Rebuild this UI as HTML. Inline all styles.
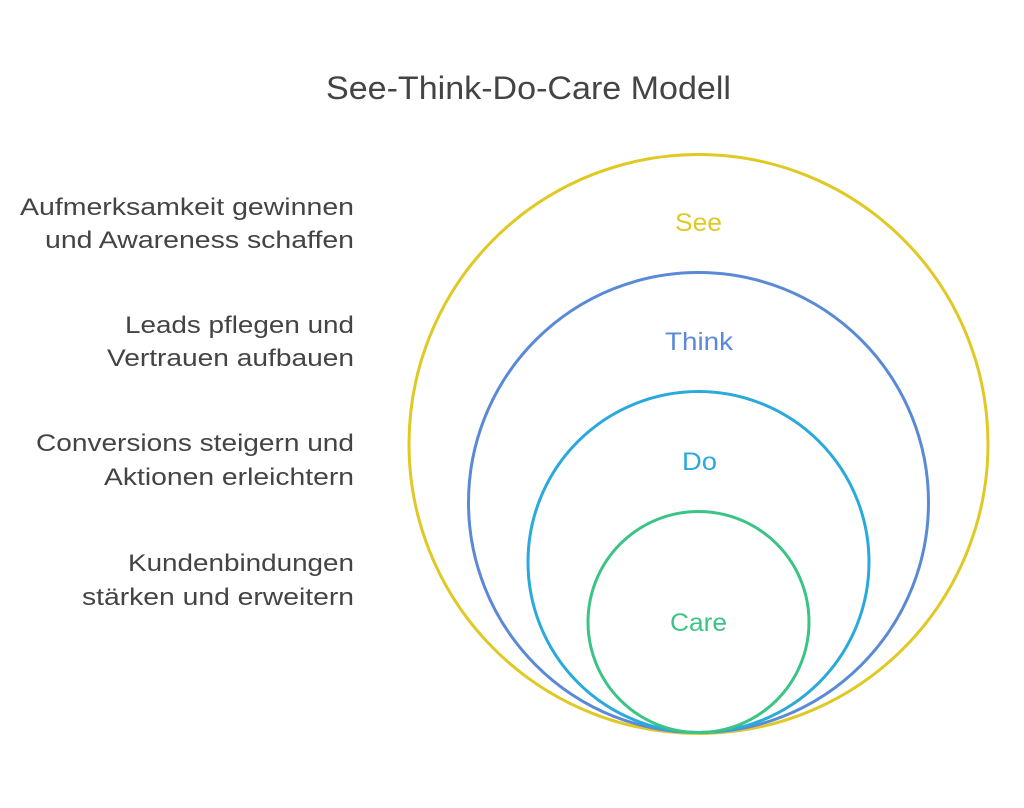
<!DOCTYPE html>
<html><head><meta charset="utf-8"><style>
html,body{margin:0;padding:0;background:#fff;}
body{width:1024px;height:803px;overflow:hidden;}
</style></head><body>
<svg width="1024" height="803" viewBox="0 0 1024 803" xmlns="http://www.w3.org/2000/svg" font-family="Liberation Sans, sans-serif">
<text x="326" y="99" font-size="32" fill="#444" textLength="405" lengthAdjust="spacingAndGlyphs">See-Think-Do-Care Modell</text>
<g fill="none" stroke-width="3">
<circle cx="698.5" cy="444" r="289.5" stroke="#e0c924"/>
<circle cx="698.5" cy="502.5" r="230" stroke="#5a8ad6"/>
<circle cx="698.5" cy="562" r="170.5" stroke="#2aa9dc"/>
<circle cx="698.5" cy="622" r="110.5" stroke="#3cc486"/>
</g>
<g font-size="25">
<text x="675" y="231" fill="#e0c924" textLength="47" lengthAdjust="spacingAndGlyphs">See</text>
<text x="665" y="350" fill="#5a8ad6" textLength="68" lengthAdjust="spacingAndGlyphs">Think</text>
<text x="682" y="470" fill="#2aa9dc" textLength="35" lengthAdjust="spacingAndGlyphs">Do</text>
<text x="670" y="631" fill="#3cc486" textLength="57" lengthAdjust="spacingAndGlyphs">Care</text>
</g>
<g font-size="24" fill="#444" text-anchor="end" lengthAdjust="spacingAndGlyphs">
<text x="354" y="215" textLength="334" lengthAdjust="spacingAndGlyphs">Aufmerksamkeit gewinnen</text>
<text x="354" y="248" textLength="309" lengthAdjust="spacingAndGlyphs">und Awareness schaffen</text>
<text x="354" y="333" textLength="229" lengthAdjust="spacingAndGlyphs">Leads pflegen und</text>
<text x="354" y="366" textLength="247" lengthAdjust="spacingAndGlyphs">Vertrauen aufbauen</text>
<text x="354" y="451" textLength="318" lengthAdjust="spacingAndGlyphs">Conversions steigern und</text>
<text x="354" y="485" textLength="250" lengthAdjust="spacingAndGlyphs">Aktionen erleichtern</text>
<text x="354" y="571" textLength="226" lengthAdjust="spacingAndGlyphs">Kundenbindungen</text>
<text x="354" y="605" textLength="272" lengthAdjust="spacingAndGlyphs">stärken und erweitern</text>
</g>
</svg>
</body></html>
